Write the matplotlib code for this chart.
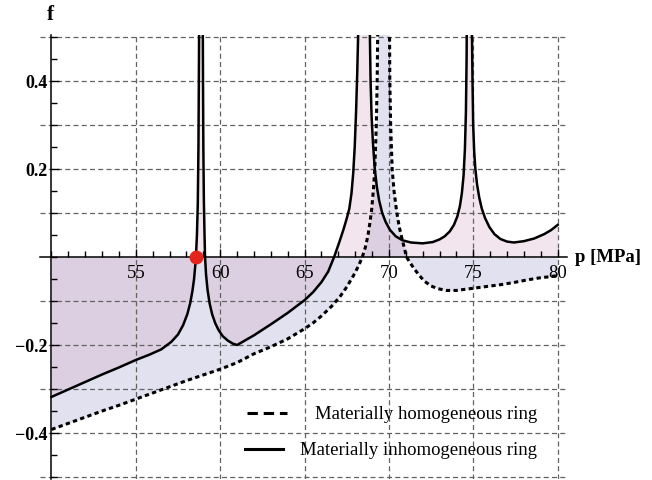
import numpy as np
import matplotlib.pyplot as plt
from matplotlib.ticker import MultipleLocator, FixedLocator

plt.rcParams['font.family'] = ['Liberation Serif', 'DejaVu Serif']

# materially homogeneous ring (dashed)
homog_p = [50.0, 51.0, 52.0, 53.0, 54.0, 55.0, 56.0, 57.0, 58.0, 59.0, 60.0, 61.0,
           62.0, 63.0, 64.0, 65.0, 65.5, 66.0, 66.6, 67.1, 67.5, 67.9, 68.2, 68.42,
           68.6, 68.75, 68.88, 68.98, 69.08, 69.16, 69.25, 69.3, 69.36,
           70.02, 70.05, 70.1, 70.19, 70.3, 70.45, 70.6, 70.75, 70.9, 71.04, 71.25,
           71.5, 71.8, 72.1, 72.5, 72.9, 73.4, 74.0, 74.6, 75.2, 76.0, 76.6, 77.4,
           78.2, 79.0, 79.5, 80.0]
homog_f = [-0.392, -0.378, -0.364, -0.350, -0.337, -0.323, -0.309, -0.295, -0.281, -0.268,
           -0.255, -0.240, -0.220, -0.204, -0.186, -0.163, -0.150, -0.134, -0.112, -0.090,
           -0.068, -0.042, -0.020, 0.0,
           0.022, 0.048, 0.08, 0.11, 0.155, 0.2, 0.3, 0.4, 0.6,
           0.6, 0.4, 0.3, 0.2, 0.15, 0.105, 0.07, 0.045, 0.022, 0.0, -0.013,
           -0.027, -0.042, -0.055, -0.066, -0.072, -0.076, -0.076, -0.073, -0.070, -0.066,
           -0.063, -0.058, -0.052, -0.047, -0.045, -0.042]

# materially inhomogeneous ring (solid)
inhomog_p = [50.0, 51.0, 52.0, 53.0, 54.0, 55.0, 55.8, 56.5, 57.1, 57.5, 57.8, 58.05,
             58.22, 58.35, 58.45, 58.52, 58.56, 58.62, 58.67, 58.71, 58.74, 58.76,
             58.96, 58.98, 59.0, 59.03, 59.07, 59.1, 59.16, 59.25, 59.37, 59.52, 59.7,
             59.9, 60.15, 60.45, 60.75, 61.0,
             62.0, 63.0, 64.0, 65.0, 65.5, 66.0, 66.4, 66.75, 67.05, 67.3, 67.5, 67.65,
             67.78, 67.88, 67.97, 68.05, 68.12, 68.17, 68.2,
             68.85, 68.87, 68.91, 68.97, 69.05, 69.16, 69.28, 69.42, 69.6, 69.8, 70.05,
             70.4, 70.8, 71.3, 72.0, 72.6, 73.0, 73.3, 73.6, 73.85, 74.05, 74.2, 74.32,
             74.42, 74.5, 74.56, 74.6, 74.62,
             74.9, 74.92, 74.95, 74.99, 75.05, 75.12, 75.22, 75.35, 75.5, 75.7, 75.95,
             76.25, 76.6, 77.0, 77.4, 78.0, 78.6, 79.2, 79.6, 80.0]
inhomog_f = [-0.318, -0.301, -0.284, -0.267, -0.251, -0.234, -0.222, -0.210, -0.193, -0.176,
             -0.155, -0.130, -0.105, -0.078, -0.050, -0.020, 0.0, 0.05, 0.12, 0.25, 0.45, 0.6,
             0.6, 0.4, 0.25, 0.13, 0.05, 0.0, -0.04, -0.075, -0.105, -0.13, -0.15,
             -0.166, -0.180, -0.190, -0.197, -0.200,
             -0.178, -0.153, -0.127, -0.098, -0.080, -0.057, -0.033, 0.0, 0.033, 0.062,
             0.088, 0.11, 0.145, 0.19, 0.25, 0.33, 0.42, 0.5, 0.6,
             0.6, 0.5, 0.4, 0.32, 0.26, 0.2, 0.16, 0.128, 0.1, 0.08, 0.062,
             0.047, 0.038, 0.033, 0.031, 0.034, 0.040, 0.047, 0.058, 0.073, 0.092, 0.115,
             0.145, 0.185, 0.245, 0.33, 0.45, 0.6,
             0.6, 0.5, 0.4, 0.3, 0.24, 0.2, 0.165, 0.135, 0.11, 0.088, 0.068,
             0.052, 0.041, 0.035, 0.033, 0.036, 0.042, 0.052, 0.061, 0.073]

zero_p = [58.56]
zero_f = [0.0]

x_ticks = [55, 60, 65, 70, 75, 80]
y_ticks = [-0.4, -0.2, 0.2, 0.4]
grid_f = [-0.5, -0.4, -0.3, -0.2, -0.1, 0.1, 0.2, 0.3, 0.4, 0.5]

labels = ["Materially homogeneous ring", "Materially inhomogeneous ring"]

fig = plt.figure(figsize=(6.52, 4.8), dpi=100)
ax = fig.add_axes([40/652, 0.8/480, 527/652, 444.4/480])
ax.set_xlim(49.32, 80.55)
ax.set_ylim(-0.505, 0.505)

# fillings to the axis (Mathematica style)
ax.fill_between(homog_p, homog_f, 0, color=(0.544, 0.544, 0.76), alpha=0.25, lw=0, zorder=1)
ax.fill_between(inhomog_p, inhomog_f, 0, color=(0.812, 0.608, 0.732), alpha=0.25, lw=0, zorder=1.1)

# dashed grid
grid_kw = dict(color='#626262', lw=0.9, dashes=(4, 2.6), zorder=1.5)
for g in grid_f:
    ax.axhline(g, **grid_kw)
for g in x_ticks:
    ax.axvline(g, **grid_kw)

ax.plot(homog_p, homog_f, color='black', lw=2.2, dashes=(1.4, 1.1), zorder=3)
ax.plot(inhomog_p, inhomog_f, color='black', lw=1.8, zorder=3)
ax.plot(zero_p, zero_f, 'o', color='#e3261c', ms=9, zorder=4, clip_on=False)

# axes through the origin of the picture
ax.spines['left'].set_position(('data', 50))
ax.spines['bottom'].set_position(('data', 0))
ax.spines['top'].set_visible(False)
ax.spines['right'].set_visible(False)
for s in ['left', 'bottom']:
    ax.spines[s].set_linewidth(1.1)
    ax.spines[s].set_zorder(2.5)

ax.xaxis.set_major_locator(FixedLocator(x_ticks))
ax.xaxis.set_minor_locator(MultipleLocator(1))
ax.yaxis.set_major_locator(FixedLocator(y_ticks))
ax.yaxis.set_minor_locator(MultipleLocator(0.05))
ax.tick_params(axis='x', which='both', direction='in', pad=6, labelsize=13.5)
ax.tick_params(axis='y', which='both', direction='in', pad=3, labelsize=13)
ax.tick_params(which='major', length=6, width=1)
ax.tick_params(which='minor', length=4, width=1)
ax.set_yticklabels(['\u22120.4', '\u22120.2', '0.2', '0.4'], fontweight='bold')

ax.annotate('p [MPa]', xy=(1, 0), xycoords=('axes fraction', 'data'), xytext=(6, 0),
            textcoords='offset points', ha='left', va='center', fontsize=13.5,
            fontweight='bold', annotation_clip=False)
ax.annotate('f', xy=(50, 1), xycoords=('data', 'axes fraction'), xytext=(-1, 14),
            textcoords='offset points', ha='center', va='center', fontsize=15,
            fontweight='bold', annotation_clip=False)

# legend drawn by hand, text right aligned as in the original
ax.plot([0.393, 0.469], [0.148, 0.148], transform=ax.transAxes, color='black', lw=2.2,
        dashes=(3.4, 1.9), zorder=5)
ax.plot([0.389, 0.461], [0.068, 0.068], transform=ax.transAxes, color='black', lw=2.2, zorder=5)
ax.text(0.943, 0.1445, labels[0], transform=ax.transAxes, ha='right', va='center', fontsize=13.5)
ax.text(0.943, 0.0635, labels[1], transform=ax.transAxes, ha='right', va='center', fontsize=13.5)

fig.savefig('out.png', dpi=100)
